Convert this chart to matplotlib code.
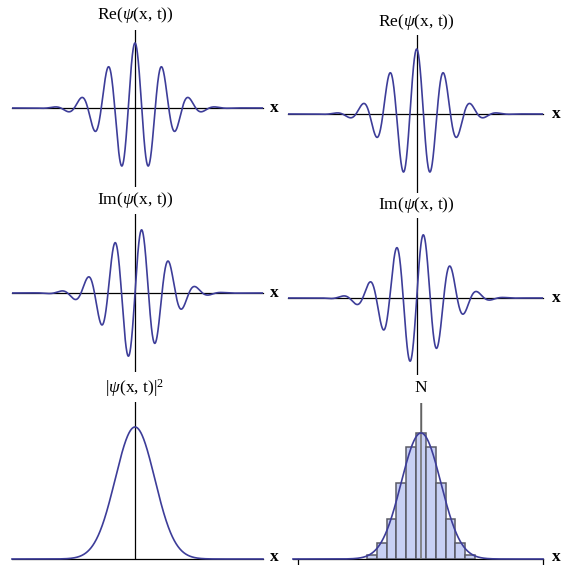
import numpy as np
import matplotlib
matplotlib.use('Agg')
import matplotlib.pyplot as plt

plt.rcParams['font.family'] = ['Liberation Serif', 'DejaVu Serif']
plt.rcParams['mathtext.fontset'] = 'custom'
plt.rcParams['mathtext.rm'] = 'Liberation Serif'
plt.rcParams['mathtext.it'] = 'Liberation Serif:italic'

W, H = 561, 565
##wave packet parameters (pixel units of the picture)
amp = 65.0          # peak of Re / Im
sigma = 28.0        # width of the envelope
wavelength = 27.0   # carrier wavelength
dens_peak = 132.0   # peak of |psi|^2 (left)
curve_peak = 126.0  # peak of the fitted curve (right)

##histogram of counts, one per bin, bins left to right
counts = [4.4, 16, 40, 76, 111.7, 126, 111.7, 76, 40, 16, 4.4]
bin_width = 9.85

titles = [r'Re($\psi$(x, t))', r'Im($\psi$(x, t))', r'|$\psi$(x, t)|$^{2}$',
          r'Re($\psi$(x, t))', r'Im($\psi$(x, t))', 'N']

blue = '#3d3d99'

fig = plt.figure(figsize=(W/100, H/100), dpi=100)


def panel(left, right, top, bottom, cx, cy):
    ##axes in pixel coords, data = pixel offset from the origin
    ax = fig.add_axes([left/W, 1-bottom/H, (right-left)/W, (bottom-top)/H])
    ax.set_xlim(left-cx, right-cx)
    ax.set_ylim(cy-bottom, cy-top)
    ax.axis('off')
    ax.axhline(0, color='black', lw=0.9, zorder=1, clip_on=False)
    ax.axvline(0, color='black', lw=0.9, zorder=1)
    return ax


def envelope(x):
    return amp*np.exp(-x**2/(2*sigma**2))


def finish(ax, title, top_gap, xgap, at_bottom):
    x0, x1 = ax.get_xlim()
    y0, y1 = ax.get_ylim()
    ax.text(0, y1+top_gap, title, ha='center', va='center', fontsize=12.5,
            clip_on=False)
    if at_bottom:
        ##keep the label inside the figure
        ax.text(x1+xgap, -6, 'x', ha='center', va='bottom', fontsize=12.5,
                fontweight='bold', clip_on=False)
    else:
        ax.text(x1+xgap, 0, 'x', ha='center', va='center', fontsize=12.5,
                fontweight='bold', clip_on=False)


k = 2*np.pi/wavelength

specs = [
    (12, 263, 30, 187, 135, 108, 're', 15),
    (12, 263, 214, 372, 135, 293, 'im', 14),
    (12, 263, 402, 559, 135, 559, 'dens', 14),
    (288, 543, 35, 193, 416.7, 114, 're', 13),
    (288, 543, 218, 375, 416.7, 298, 'im', 13),
    (293, 543, 403, 559, 421, 559, 'hist', 15),
]

for i, (l, r, t, b, cx, cy, kind, gap) in enumerate(specs):
    ax = panel(l, r, t, b, cx, cy)
    x = np.linspace(l-cx, r-cx, 1200)
    if kind == 're':
        ax.plot(x, envelope(x)*np.cos(k*x), color=blue, lw=1.2, zorder=2)
    elif kind == 'im':
        ax.plot(x, envelope(x)*np.sin(k*x), color=blue, lw=1.2, zorder=2)
    elif kind == 'dens':
        ax.plot(x, dens_peak*(envelope(x)/amp)**2, color=blue, lw=1.2, zorder=2,
                clip_on=False)
    else:
        n = len(counts)
        centers = (np.arange(n) - (n-1)/2)*bin_width
        ax.bar(centers, counts, width=bin_width, color='#c8d0f4',
               edgecolor='#5a5a66', lw=1.1, zorder=1.5)
        ax.plot(x, curve_peak*(envelope(x)/amp)**2, color=blue, lw=1.2, zorder=3,
                clip_on=False)
        ax.axvline(0, color='#777777', lw=1.2, zorder=2.5)
        for tx in [l-cx+5, r-cx]:
            ax.plot([tx, tx], [0, -6], color='black', lw=0.9, clip_on=False)
    xgap = 11 if l < 100 else 13
    finish(ax, titles[i], gap, xgap, b > 500)

plt.savefig('out.png', dpi=100)
